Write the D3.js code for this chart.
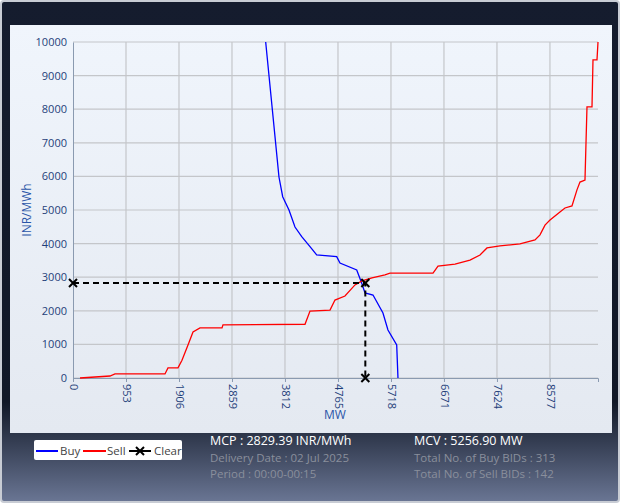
<!DOCTYPE html>
<html><head><meta charset="utf-8">
<script src="https://cdn.jsdelivr.net/npm/d3@7"></script>
<style>body{margin:0;background:#fff;font-family:"Open Sans",sans-serif}</style>
</head><body><svg id="c" width="620" height="503"></svg>
<script>
// buy curve [MW, INR/MWh]
var buyPts = [[3465,10000],[3704,5982],[3771,5396],[3884,5000],[3992,4494],[4113,4205],[4262,3908],[4382,3661],[4742,3610],[4801,3423],[5102,3214],[5191,2827],[5251,2530],[5395,2470],[5574,1934],[5664,1428],[5821,982],[5844,0]];
var sellPts = [[126,0],[665,60],[755,120],[1654,120],[1708,300],[1888,300],[1960,530],[2068,980],[2158,1370],[2284,1490],[2680,1490],[2697,1580],[4172,1600],[4262,1990],[4622,2020],[4711,2320],[4891,2440],[5071,2770],[5197,2890],[5377,2980],[5610,3070],[5700,3120],[6474,3120],[6564,3330],[6870,3390],[7139,3510],[7319,3660],[7445,3870],[7678,3930],[8038,3990],[8308,4110],[8398,4260],[8488,4550],[8578,4700],[8757,4940],[8847,5060],[8973,5120],[9063,5600],[9117,5830],[9207,5890],[9243,8070],[9333,8070],[9351,9470],[9423,9470],[9441,10000]];
var xTicks = [0,953,1906,2859,3812,4765,5718,6671,7624,8577];
var yTicks = [0,1000,2000,3000,4000,5000,6000,7000,8000,9000,10000];
var mcp = 2829.39, mcv = 5256.90;
var infoLeft = ["MCP : 2829.39 INR/MWh","Delivery Date : 02 Jul 2025","Period :  00:00-00:15"];
var infoRight = ["MCV : 5256.90 MW","Total No. of Buy BIDs : 313","Total No. of Sell BIDs : 142"];

var svg = d3.select("#c");
var defs = svg.append("defs");
var g1 = defs.append("linearGradient").attr("id","bg").attr("x1",0).attr("y1",0).attr("x2",0).attr("y2",1);
g1.append("stop").attr("offset","0").attr("stop-color","#151c2e");
g1.append("stop").attr("offset","0.8").attr("stop-color","#111827");
g1.append("stop").attr("offset","1").attr("stop-color","#6a7694");
var g2 = defs.append("linearGradient").attr("id","pn").attr("x1",0).attr("y1",0).attr("x2",0).attr("y2",1);
g2.append("stop").attr("offset","0").attr("stop-color","#f0f5fc");
g2.append("stop").attr("offset","1").attr("stop-color","#e4e9f1");

svg.append("rect").attr("x",1).attr("y",1).attr("width",618).attr("height",501).attr("rx",3)
  .attr("fill","url(#bg)").attr("stroke","#c8ccd4").attr("stroke-width",2);
svg.append("rect").attr("x",10).attr("y",25).attr("width",602).attr("height",408).attr("fill","url(#pn)");

var x = d3.scaleLinear().domain([0,9441]).range([73,598]);
var y = d3.scaleLinear().domain([0,10000]).range([378,42]);

var grid = svg.append("g").attr("stroke","#c4c6ca").attr("stroke-width",1.2);
yTicks.forEach(function(t){ grid.append("line").attr("x1",73).attr("x2",598).attr("y1",y(t)).attr("y2",y(t)); });
xTicks.slice(1).forEach(function(t){ grid.append("line").attr("x1",x(t)).attr("x2",x(t)).attr("y1",42).attr("y2",378); });

svg.append("g").attr("transform","translate(73,0)")
  .call(d3.axisLeft(y).tickValues(yTicks).tickSize(0).tickPadding(6).tickFormat(d3.format("d")))
  .call(function(a){a.select(".domain").attr("stroke","#8a9ab0");a.selectAll("text").attr("fill","#1f3f7a").attr("font-size",11).attr("font-family","Open Sans");});
var xa = svg.append("g").attr("transform","translate(0,378)")
  .call(d3.axisBottom(x).tickValues(xTicks).tickSize(4).tickFormat(d3.format("d")));
xa.select(".domain").attr("stroke","#8a9ab0");
xa.selectAll("line").attr("stroke","#8a9ab0");
xa.selectAll("text").attr("fill","#1f3f7a").attr("font-size",11).attr("font-family","Open Sans")
  .attr("transform","rotate(90)").attr("text-anchor","start").attr("x",6).attr("y",0).attr("dy","0.35em");

svg.append("text").attr("x",335).attr("y",419).attr("text-anchor","middle").attr("fill","#2a55a8").attr("font-size",12).text("MW");
svg.append("text").attr("transform","translate(31,210) rotate(-90)").attr("text-anchor","middle").attr("fill","#2a55a8").attr("font-size",12).text("INR/MWh");

var line = d3.line().x(function(d){return x(d[0]);}).y(function(d){return y(d[1]);});
svg.append("path").datum(buyPts).attr("d",line).attr("fill","none").attr("stroke","#0000ff").attr("stroke-width",1.3);
svg.append("path").datum(sellPts).attr("d",line).attr("fill","none").attr("stroke","#ff0000").attr("stroke-width",1.3);

var clear = [[0,mcp],[mcv,mcp],[mcv,0]];
svg.append("path").datum(clear).attr("d",line).attr("fill","none").attr("stroke","#000").attr("stroke-width",2).attr("stroke-dasharray","6,4");
function cross(cx,cy){ svg.append("path").attr("d","M"+(cx-4)+","+(cy-4)+"L"+(cx+4)+","+(cy+4)+"M"+(cx+4)+","+(cy-4)+"L"+(cx-4)+","+(cy+4)).attr("stroke","#000").attr("stroke-width",2); }
clear.forEach(function(d){ cross(x(d[0]),y(d[1])); });

// legend
var lg = svg.append("g").attr("font-size",11.5).attr("fill","#444");
lg.append("rect").attr("x",34).attr("y",440).attr("width",148).attr("height",20).attr("rx",2).attr("fill","#fff");
lg.append("line").attr("x1",36).attr("x2",58).attr("y1",451).attr("y2",451).attr("stroke","#0000ff").attr("stroke-width",2);
lg.append("text").attr("x",60).attr("y",455).text("Buy");
lg.append("line").attr("x1",83).attr("x2",106).attr("y1",451).attr("y2",451).attr("stroke","#ff0000").attr("stroke-width",2);
lg.append("text").attr("x",107).attr("y",455).text("Sell");
lg.append("line").attr("x1",129).attr("x2",151).attr("y1",451).attr("y2",451).attr("stroke","#000").attr("stroke-width",2);
lg.append("path").attr("d","M136,447L144,455M144,447L136,455").attr("stroke","#000").attr("stroke-width",2);
lg.append("text").attr("x",154).attr("y",455).text("Clear");

[[infoLeft,210],[infoRight,414]].forEach(function(p){
  p[0].forEach(function(t,i){
    svg.append("text").attr("x",p[1]).attr("y",445+i*16.5).attr("font-size",i==0?12.5:11.5)
      .attr("fill",i==0?"#ffffff":"#8a8f9c").text(t);
  });
});
</script></body></html>
